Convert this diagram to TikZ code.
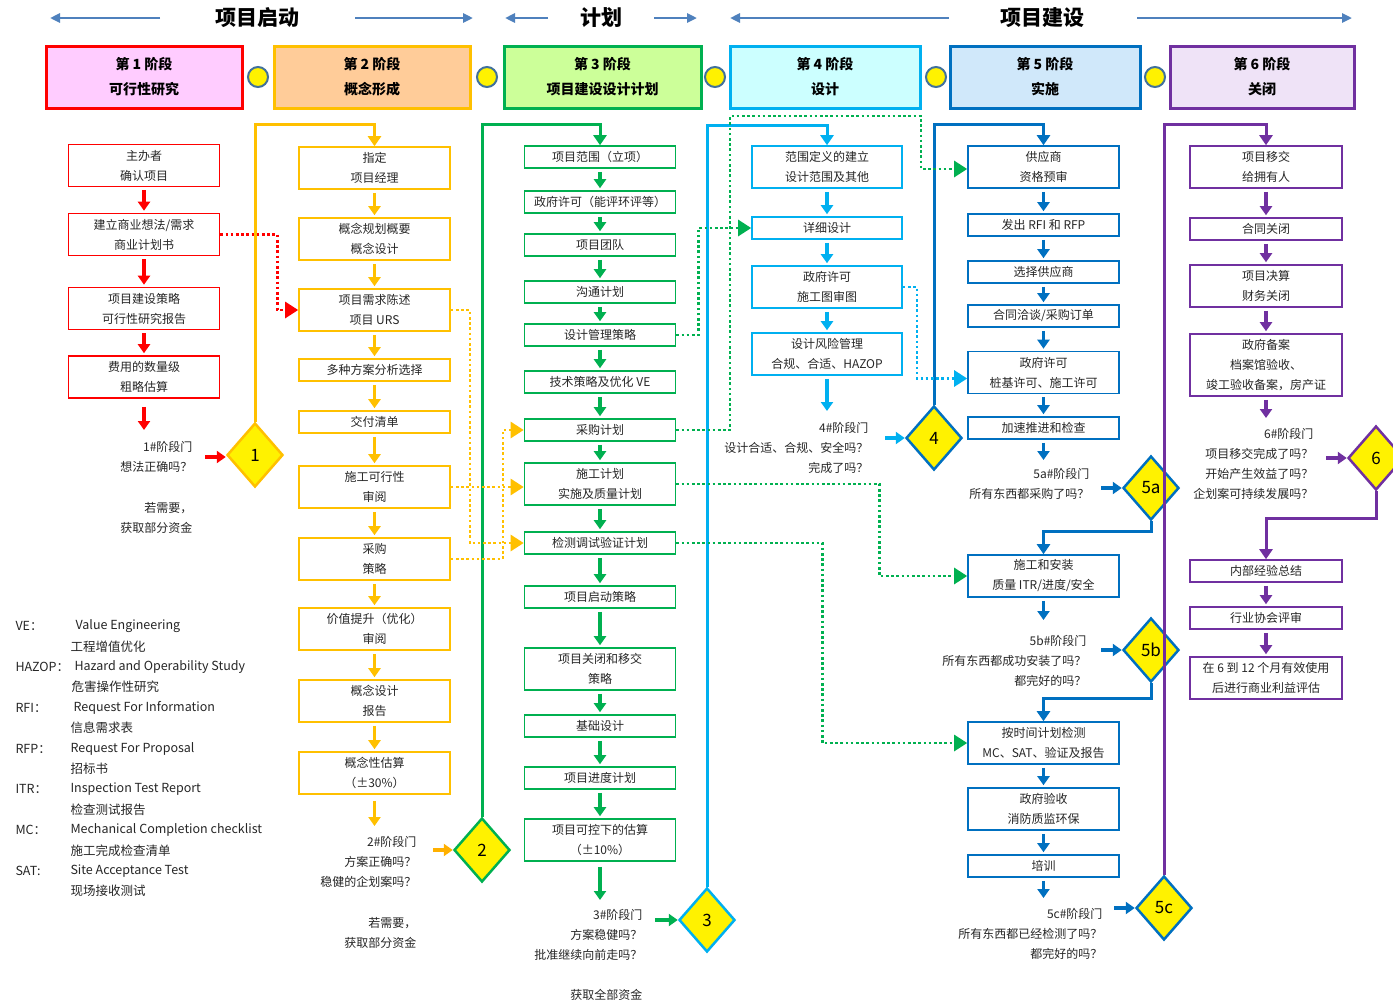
\documentclass[tikz,border=0pt]{standalone}
\usepackage{fontspec}
\setmainfont{Noto Sans CJK SC}
\usetikzlibrary{arrows.meta,shapes.geometric,calc}
\definecolor{cred}{HTML}{FF0000}
\definecolor{cyel}{HTML}{FFC000}
\definecolor{corg}{HTML}{FFB000}
\definecolor{cgrn}{HTML}{00B050}
\definecolor{clbl}{HTML}{00B0F0}
\definecolor{cblu}{HTML}{0070C0}
\definecolor{cpur}{HTML}{7030A0}
\definecolor{hdrblue}{HTML}{4F81BD}
\definecolor{circb}{HTML}{41719C}
\definecolor{txt}{HTML}{262626}
\definecolor{fa}{HTML}{FFCCFF}
\definecolor{fb}{HTML}{FFCC99}
\definecolor{fc}{HTML}{CCFF99}
\definecolor{fd}{HTML}{CCFFFF}
\definecolor{fe}{HTML}{D0E8FA}
\definecolor{ff}{HTML}{EFE3F7}
\begin{document}
\begin{tikzpicture}[x=1pt,y=-1pt,
  every node/.style={font=\fontsize{12}{20}\selectfont, text=txt},
  box/.style={draw, line width=1.6pt, fill=white, minimum width=151pt, inner sep=0pt, align=center},
  hA/.style={minimum height=22pt},
  hB/.style={minimum height=42pt},
  hC/.style={minimum height=62pt},
  flow/.style={line width=3.5pt, -{Triangle[length=9pt,width=12pt]}, shorten <=3pt, shorten >=2pt},
  garrow/.style={line width=3.5pt, -{Triangle[length=9pt,width=12pt]}},
  pline/.style={line width=3pt, -{Triangle[length=10pt,width=13pt]}},
  dotl/.style={line width=2.6pt, dash pattern=on 2.6pt off 2.6pt, -{Triangle[length=13pt,width=16pt]}},
  gate/.style={diamond, draw, fill=yellow, line width=2.5pt, minimum width=56pt, minimum height=64pt, inner sep=0pt, font=\fontsize{17}{17}\selectfont, text=black},
  gtext/.style={anchor=east, align=right},
  phase/.style={draw, line width=3pt, minimum height=62pt, align=center, inner sep=0pt, font=\fontsize{14}{25}\selectfont\bfseries, text=black},
  hdr/.style={font=\fontsize{21}{21}\selectfont\bfseries, text=black},
  harrow/.style={line width=2.5pt, hdrblue, -{Triangle[length=10pt,width=9pt]}},
  jdot/.style={circle, draw=circb, fill=yellow, line width=2pt, minimum size=20pt, inner sep=0pt},
  leg/.style={anchor=west, font=\fontsize{12.5}{14}\selectfont}]
\fill[white] (0,0) rectangle (1393,1002);
\useasboundingbox (0,0) rectangle (1393,1002);

% ---------- header ----------
\node[hdr] (t1) at (257,18) {项目启动};
\node[hdr] (t2) at (601,18) {计划};
\node[hdr] (t3) at (1042,18) {项目建设};
\coordinate (h1a) at (160,18); \coordinate (h1b) at (50,18);
\coordinate (h1c) at (355,18); \coordinate (h1d) at (473,18);
\coordinate (h2a) at (548,18); \coordinate (h2b) at (505,18);
\coordinate (h2c) at (654,18); \coordinate (h2d) at (697,18);
\coordinate (h3a) at (949,18); \coordinate (h3b) at (730,18);
\coordinate (h3c) at (1137,18); \coordinate (h3d) at (1352,18);
\draw[harrow] (h1a) -- (h1b);
\draw[harrow] (h1c) -- (h1d);
\draw[harrow] (h2a) -- (h2b);
\draw[harrow] (h2c) -- (h2d);
\draw[harrow] (h3a) -- (h3b);
\draw[harrow] (h3c) -- (h3d);

% ---------- phases ----------
\node[phase, draw=cred, fill=fa, minimum width=196pt] (p1) at (144,77) {第 1 阶段\\可行性研究};
\node[phase, draw=cyel, fill=fb, minimum width=196pt] (p2) at (372,77) {第 2 阶段\\概念形成};
\node[phase, draw=cgrn, fill=fc, minimum width=197pt] (p3) at (602.5,77) {第 3 阶段\\项目建设设计计划};
\node[phase, draw=clbl, fill=fd, minimum width=190pt] (p4) at (825,77) {第 4 阶段\\设计};
\node[phase, draw=cblu, fill=fe, minimum width=190pt] (p5) at (1045,77) {第 5 阶段\\实施};
\node[phase, draw=cpur, fill=ff, minimum width=184pt] (p6) at (1262,77) {第 6 阶段\\关闭};
\node[jdot] (j1) at (258,77) {};
\node[jdot] (j2) at (487,77) {};
\node[jdot] (j3) at (715,77) {};
\node[jdot] (j4) at (936,77) {};
\node[jdot] (j5) at (1155,77) {};

\coordinate (top) at (0,124);
\coordinate (top2) at (0,125);

% ---------- column 1 ----------
\node[box, draw=cred, hB] (c1a) at (144,165.5) {主办者\\确认项目};
\node[box, draw=cred, hB] (c1b) at (144,234.5) {建立商业想法/需求\\商业计划书};
\node[box, draw=cred, hB] (c1c) at (144,308.5) {项目建设策略\\可行性研究报告};
\node[box, draw=cred, hB] (c1d) at (144,377) {费用的数量级\\粗略估算};
\draw[flow, cred] (c1a.south) -- (c1b.north);
\draw[flow, cred] (c1b.south) -- (c1c.north);
\draw[flow, cred] (c1c.south) -- (c1d.north);
\coordinate (e1) at (144,432);
\draw[flow, cred, shorten <=8pt] (c1d.south) -- (e1);
\node[gtext] (g1) at (196,457) {1\#阶段门\\想法正确吗？};
\node[gtext] (g1b) at (196,518) {若需要，\\获取部分资金};
\node[gate, draw=cyel] (d1) at (255,455) {1};
\coordinate (a1) at (205,457);
\draw[garrow, cred] (a1) -- (a1 -| d1.west);

% ---------- column 2 ----------
\node[box, draw=cyel, hB] (b21) at (374.5,168) {指定\\项目经理};
\node[box, draw=cyel, hB] (b22) at (374.5,239) {概念规划概要\\概念设计};
\node[box, draw=cyel, hB] (b23) at (374.5,310) {项目需求陈述\\项目 URS};
\node[box, draw=cyel, hA] (b24) at (374.5,370) {多种方案分析选择};
\node[box, draw=cyel, hA] (b25) at (374.5,422) {交付清单};
\node[box, draw=cyel, hB] (b26) at (374.5,487) {施工可行性\\审阅};
\node[box, draw=cyel, hB] (b27) at (374.5,559) {采购\\策略};
\node[box, draw=cyel, hB] (b28) at (374.5,629) {价值提升（优化）\\审阅};
\node[box, draw=cyel, hB] (b29) at (374.5,701) {概念设计\\报告};
\node[box, draw=cyel, hB] (b2j) at (374.5,773) {概念性估算\\（±30\%）};
\draw[flow, cyel] (b21.south) -- (b22.north);
\draw[flow, cyel] (b22.south) -- (b23.north);
\draw[flow, cyel] (b23.south) -- (b24.north);
\draw[flow, cyel] (b24.south) -- (b25.north);
\draw[flow, cyel] (b25.south) -- (b26.north);
\draw[flow, cyel] (b26.south) -- (b27.north);
\draw[flow, cyel] (b27.south) -- (b28.north);
\draw[flow, cyel] (b28.south) -- (b29.north);
\draw[flow, cyel] (b29.south) -- (b2j.north);
\coordinate (e2) at (374.5,828);
\draw[flow, cyel, shorten <=6pt] (b2j.south) -- (e2);
\node[gtext] (g2) at (420,862) {2\#阶段门\\方案正确吗？\\稳健的企划案吗？};
\node[gtext] (g2b) at (420,933) {若需要，\\获取部分资金};
\node[gate, draw=cgrn] (d2) at (482,850) {2};
\coordinate (a2) at (433,850);
\draw[garrow, corg] (a2) -- (a2 -| d2.west);
\draw[pline, cyel] (d1.north) -- (d1.north |- top) -| (b21.north);

% ---------- column 3 ----------
\node[box, draw=cgrn, hA] (b31) at (600,157) {项目范围（立项）};
\node[box, draw=cgrn, hA] (b32) at (600,202) {政府许可（能评环评等）};
\node[box, draw=cgrn, hA] (b33) at (600,245) {项目团队};
\node[box, draw=cgrn, hA] (b34) at (600,292) {沟通计划};
\node[box, draw=cgrn, hA] (b35) at (600,335) {设计管理策略};
\node[box, draw=cgrn, hA] (b36) at (600,382) {技术策略及优化 VE};
\node[box, draw=cgrn, hA] (b37) at (600,430) {采购计划};
\node[box, draw=cgrn, hB] (b38) at (600,484) {施工计划\\实施及质量计划};
\node[box, draw=cgrn, hA] (b39) at (600,543) {检测调试验证计划};
\node[box, draw=cgrn, hA] (b3j) at (600,597) {项目启动策略};
\node[box, draw=cgrn, hB] (b3k) at (600,669) {项目关闭和移交\\策略};
\node[box, draw=cgrn, hA] (b3l) at (600,726) {基础设计};
\node[box, draw=cgrn, hA] (b3m) at (600,778) {项目进度计划};
\node[box, draw=cgrn, hB] (b3n) at (600,840) {项目可控下的估算\\（±10\%）};
\draw[flow, cgrn] (b31.south) -- (b32.north);
\draw[flow, cgrn] (b32.south) -- (b33.north);
\draw[flow, cgrn] (b33.south) -- (b34.north);
\draw[flow, cgrn] (b34.south) -- (b35.north);
\draw[flow, cgrn] (b35.south) -- (b36.north);
\draw[flow, cgrn] (b36.south) -- (b37.north);
\draw[flow, cgrn] (b37.south) -- (b38.north);
\draw[flow, cgrn] (b38.south) -- (b39.north);
\draw[flow, cgrn] (b39.south) -- (b3j.north);
\draw[flow, cgrn] (b3j.south) -- (b3k.north);
\draw[flow, cgrn] (b3k.south) -- (b3l.north);
\draw[flow, cgrn] (b3l.south) -- (b3m.north);
\draw[flow, cgrn] (b3m.south) -- (b3n.north);
\coordinate (e3) at (600,902);
\draw[flow, cgrn, shorten <=5pt] (b3n.south) -- (e3);
\node[gtext] (g3) at (646,935) {3\#阶段门\\方案稳健吗？\\批准继续向前走吗？};
\node[gtext] (g3b) at (646,995) {获取全部资金};
\node[gate, draw=clbl] (d3) at (707,920) {3};
\coordinate (a3) at (655,920);
\draw[garrow, cgrn] (a3) -- (a3 -| d3.west);
\draw[pline, cgrn] (d2.north) -- (d2.north |- top) -| (b31.north);

% ---------- column 4 ----------
\node[box, draw=clbl, hB, minimum width=150pt] (b41) at (827,167) {范围定义的建立\\设计范围及其他};
\node[box, draw=clbl, hA, minimum width=150pt] (b42) at (827,228) {详细设计};
\node[box, draw=clbl, hB, minimum width=150pt] (b43) at (827,287) {政府许可\\施工图审图};
\node[box, draw=clbl, hB, minimum width=150pt] (b44) at (827,354) {设计风险管理\\合规、合适、HAZOP};
\draw[flow, clbl] (b41.south) -- (b42.north);
\draw[flow, clbl] (b42.south) -- (b43.north);
\draw[flow, clbl] (b43.south) -- (b44.north);
\coordinate (e4) at (827,413);
\draw[flow, clbl] (b44.south) -- (e4);
\node[gtext] (g4) at (872,448) {4\#阶段门\\设计合适、合规、安全吗？\\完成了吗？};
\node[gate, draw=cblu] (d4) at (934,438) {4};
\coordinate (a4) at (885,438);
\draw[garrow, clbl] (a4) -- (a4 -| d4.west);
\draw[pline, clbl] (d3.north) -- (d3.north |- top2) -| (b41.north);

% ---------- column 5 ----------
\node[box, draw=cblu, hB] (b51) at (1043.5,167) {供应商\\资格预审};
\node[box, draw=cblu, hA] (b52) at (1043.5,225) {发出 RFI 和 RFP};
\node[box, draw=cblu, hA] (b53) at (1043.5,272) {选择供应商};
\node[box, draw=cblu, hA] (b54) at (1043.5,316) {合同洽谈/采购订单};
\node[box, draw=cblu, hB] (b55) at (1043.5,372.5) {政府许可\\桩基许可、施工许可};
\node[box, draw=cblu, hA] (b56) at (1043.5,428) {加速推进和检查};
\draw[flow, cblu] (b51.south) -- (b52.north);
\draw[flow, cblu] (b52.south) -- (b53.north);
\draw[flow, cblu] (b53.south) -- (b54.north);
\draw[flow, cblu] (b54.south) -- (b55.north);
\draw[flow, cblu] (b55.south) -- (b56.north);
\coordinate (e5a) at (1043.5,462);
\draw[flow, cblu] (b56.south) -- (e5a);
\node[gtext] (g5a) at (1093,484) {5a\#阶段门\\所有东西都采购了吗？};
\node[gate, draw=cblu] (d5a) at (1151,488) {5a};
\coordinate (a5a) at (1101,488);
\draw[garrow, cblu] (a5a) -- (a5a -| d5a.west);
\draw[pline, cblu] (d4.north) -- (d4.north |- top) -| (b51.north);

\node[box, draw=cblu, hB] (b57) at (1043.5,576) {施工和安装\\质量 ITR/进度/安全};
\draw[pline, cblu] (d5a.south) -- ++(0,10) -| (b57.north);
\coordinate (e5b) at (1043.5,622);
\draw[flow, cblu] (b57.south) -- (e5b);
\node[gtext] (g5b) at (1090,661) {5b\#阶段门\\所有东西都成功安装了吗？\\都完好的吗？};
\node[gate, draw=cblu] (d5b) at (1151,650) {5b};
\coordinate (a5b) at (1101,650);
\draw[garrow, cblu] (a5b) -- (a5b -| d5b.west);

\node[box, draw=cblu, hB] (b58) at (1043.5,743) {按时间计划检测\\MC、SAT、验证及报告};
\node[box, draw=cblu, hB] (b59) at (1043.5,809) {政府验收\\消防质监环保};
\node[box, draw=cblu, hA] (b5j) at (1043.5,866) {培训};
\draw[pline, cblu] (d5b.south) -- ++(0,15) -| (b58.north);
\draw[flow, cblu] (b58.south) -- (b59.north);
\draw[flow, cblu] (b59.south) -- (b5j.north);
\coordinate (e5c) at (1043.5,900);
\draw[flow, cblu] (b5j.south) -- (e5c);
\node[gtext] (g5c) at (1106,934) {5c\#阶段门\\所有东西都已经检测了吗？\\都完好的吗？};
\node[gate, draw=cblu] (d5c) at (1164,908) {5c};
\coordinate (a5c) at (1114,908);
\draw[garrow, cblu] (a5c) -- (a5c -| d5c.west);

% ---------- column 6 ----------
\node[box, draw=cpur, hB, minimum width=152pt] (b61) at (1266,167) {项目移交\\给拥有人};
\node[box, draw=cpur, hA, minimum width=152pt] (b62) at (1266,229) {合同关闭};
\node[box, draw=cpur, hB, minimum width=152pt] (b63) at (1266,286) {项目决算\\财务关闭};
\node[box, draw=cpur, hC, minimum width=152pt] (b64) at (1266,365) {政府备案\\档案馆验收、\\竣工验收备案，房产证};
\draw[flow, cpur] (b61.south) -- (b62.north);
\draw[flow, cpur] (b62.south) -- (b63.north);
\draw[flow, cpur] (b63.south) -- (b64.north);
\coordinate (e6) at (1266,420);
\draw[flow, cpur] (b64.south) -- (e6);
\node[gtext] (g6) at (1317,464) {6\#阶段门\\项目移交完成了吗？\\开始产生效益了吗？\\企划案可持续发展吗？};
\node[gate, draw=cpur] (d6) at (1376,458) {6};
\coordinate (a6) at (1326,458);
\draw[garrow, cpur] (a6) -- (a6 -| d6.west);
\draw[pline, cpur] (d5c.north) -- (d5c.north |- top) -| (b61.north);

\node[box, draw=cpur, hA, minimum width=152pt] (b65) at (1266,571) {内部经验总结};
\node[box, draw=cpur, hA, minimum width=152pt] (b66) at (1266,618) {行业协会评审};
\node[box, draw=cpur, hB, minimum width=152pt] (b67) at (1266,678) {在 6 到 12 个月有效使用\\后进行商业利益评估};
\draw[pline, cpur] (d6.south) -- ++(0,27) -| (b65.north);
\draw[flow, cpur] (b65.south) -- (b66.north);
\draw[flow, cpur] (b66.south) -- (b67.north);

% ---------- dotted links ----------
\draw[dotl, cred] (c1b.east) -- ++(57,0) |- (b23.west);
\draw[dotl, cyel] (b23.east) -- ++(19,0) |- (b39.west);
\draw[dotl, cyel] (b26.east) -- (b26.east -| b38.west);
\draw[dotl, cyel] (b27.east) -- ++(52,0) |- (b37.west);
\draw[dotl, cgrn] (b35.east) -- ++(22,0) |- (b42.west);
\coordinate (k1) at (730,116);
\coordinate (k2) at (921,116);
\draw[dotl, cgrn] (b37.east) -- (b37.east -| k1) -- (k1) -- (k2) |- ([yshift=-2pt]b51.west);
\draw[dotl, cgrn] (b38.east) -- ++(203,0) |- (b57.west);
\draw[dotl, cgrn] (b39.east) -- ++(146,0) |- (b58.west);
\draw[dotl, clbl] (b43.east) -- ++(14,0) |- ([yshift=-6pt]b55.west);

% ---------- legend ----------
\node[leg] (l1) at (12,626) {VE：};
\node[leg] (l1e) at (72,626) {Value Engineering};
\node[leg] (l1c) at (67,647) {工程增值优化};
\node[leg] (l2) at (12,667) {HAZOP：};
\node[leg] (l2e) at (71,667) {Hazard and Operability Study};
\node[leg] (l2c) at (68,687) {危害操作性研究};
\node[leg] (l3) at (12,708) {RFI：};
\node[leg] (l3e) at (70,708) {Request For Information};
\node[leg] (l3c) at (67,728) {信息需求表};
\node[leg] (l4) at (12,749) {RFP：};
\node[leg] (l4e) at (67,749) {Request For Proposal};
\node[leg] (l4c) at (67,769) {招标书};
\node[leg] (l5) at (12,789) {ITR：};
\node[leg] (l5e) at (67,789) {Inspection Test Report};
\node[leg] (l5c) at (67,810) {检查测试报告};
\node[leg] (l6) at (12,830) {MC：};
\node[leg] (l6e) at (67,830) {Mechanical Completion checklist};
\node[leg] (l6c) at (67,851) {施工完成检查清单};
\node[leg] (l7) at (12,871) {SAT:};
\node[leg] (l7e) at (67,871) {Site Acceptance Test};
\node[leg] (l7c) at (67,891) {现场接收测试};
\end{tikzpicture}
\end{document}
